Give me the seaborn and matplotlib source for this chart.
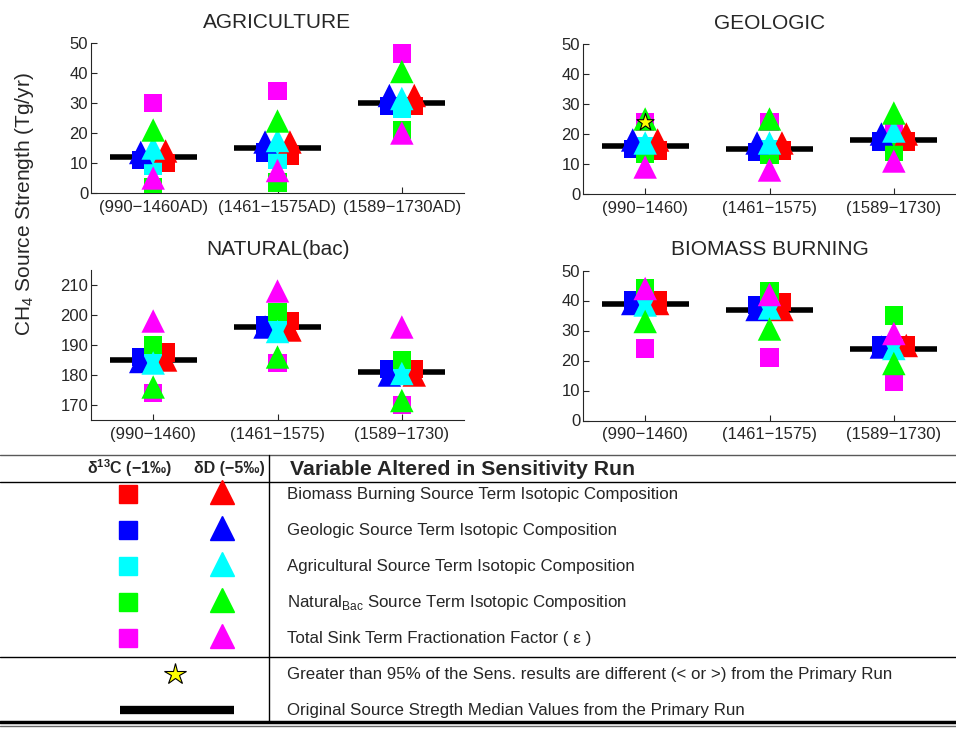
import numpy as np
import pandas as pd
import seaborn as sns
import matplotlib.pyplot as plt

#%% data
periods = ["(990\u22121460)", "(1461\u22121575)", "(1589\u22121730)"]
periods_ad = ["(990\u22121460AD)", "(1461\u22121575AD)", "(1589\u22121730AD)"]
panels = ["AGRICULTURE", "GEOLOGIC", "NATURAL(bac)", "BIOMASS BURNING"]
variables = ["Biomass", "Geologic", "Agricultural", "Natural", "Sink"]
var_colors = ["#ff0000", "#0000ff", "#00ffff", "#00ff00", "#ff00ff"]

# original source strength medians (primary run)
agri_median = [12, 15, 30]
geo_median = [16, 15, 18]
nat_median = [185, 196, 181]
bb_median = [39, 37, 24]

# d13C (-1 permil) sensitivity runs -> squares
agri_sq = {"Biomass": [10, 12.5, 29], "Geologic": [11, 13.5, 29], "Agricultural": [9, 11, 28],
           "Natural": [2, 3.5, 21], "Sink": [30, 34, 46.5]}
geo_sq = {"Biomass": [14.5, 14.5, 17.5], "Geologic": [15, 14, 17.5], "Agricultural": [16, 15, 19],
          "Natural": [13.5, 13, 14], "Sink": [24, 24, 22]}
nat_sq = {"Biomass": [187.5, 198, 182], "Geologic": [186, 196.5, 182], "Agricultural": [184, 196, 181],
          "Natural": [190, 201, 185], "Sink": [174, 184, 170]}
bb_sq = {"Biomass": [40, 39.5, 25], "Geologic": [40, 38.5, 25], "Agricultural": [39, 37.5, 24],
         "Natural": [44, 43, 35], "Sink": [24, 21, 13]}

# dD (-5 permil) sensitivity runs -> triangles
agri_tri = {"Biomass": [14, 17, 32.5], "Geologic": [13.5, 17, 32.5], "Agricultural": [15, 17.5, 31.5],
            "Natural": [21, 24, 40.5], "Sink": [5, 7.5, 20]}
geo_tri = {"Biomass": [18, 17, 20], "Geologic": [18, 17, 20], "Agricultural": [17, 17, 21],
           "Natural": [25, 25, 27], "Sink": [9, 8, 11]}
nat_tri = {"Biomass": [185, 195, 180], "Geologic": [184.5, 196, 180], "Agricultural": [184, 194.5, 180.5],
           "Natural": [176, 186, 171.5], "Sink": [198, 208, 196]}
bb_tri = {"Biomass": [39, 37, 25], "Geologic": [39, 37, 24.5], "Agricultural": [38.5, 37.5, 24],
          "Natural": [33, 30.5, 19], "Sink": [44, 42, 29]}

# >95% different from primary run
star_panel = ["GEOLOGIC"]
star_period = [0]
star_value = [24]

table_rows = ["Biomass Burning Source Term Isotopic Composition",
              "Geologic Source Term Isotopic Composition",
              "Agricultural Source Term Isotopic Composition",
              r"Natural$_{\mathregular{Bac}}$ Source Term Isotopic Composition",
              "Total Sink Term Fractionation Factor ( \u03b5 )"]

#%% long table
offsets = {"Biomass": 0.1, "Geologic": -0.1, "Agricultural": 0.0, "Natural": 0.0, "Sink": 0.0}
rows = []
for panel, sq, tri in zip(panels, [agri_sq, geo_sq, nat_sq, bb_sq], [agri_tri, geo_tri, nat_tri, bb_tri]):
    for shape, tab in (("sq", sq), ("tri", tri)):
        for v in variables:
            for i, val in enumerate(tab[v]):
                rows.append(dict(panel=panel, period=i, var=v, shape=shape, value=val,
                                 xpos=i + 1 + offsets[v]))
df = pd.DataFrame(rows)
stars = pd.DataFrame(dict(panel=star_panel, xpos=np.array(star_period) + 1, value=star_value))

#%% plot
sns.set_style("ticks")
plt.rcParams["font.family"] = ["Liberation Sans", "DejaVu Sans"]
plt.rcParams["mathtext.fontset"] = "custom"
plt.rcParams["mathtext.rm"] = "Liberation Sans"
plt.rcParams["mathtext.bf"] = "Liberation Sans:bold"

fig = plt.figure(figsize=(9.56, 7.29), dpi=100)
W, H = 956, 729
boxes = {"AGRICULTURE": (91, 193), "GEOLOGIC": (583, 194),
         "NATURAL(bac)": (91, 420), "BIOMASS BURNING": (583, 420.5)}
medians = {"AGRICULTURE": agri_median, "GEOLOGIC": geo_median,
           "NATURAL(bac)": nat_median, "BIOMASS BURNING": bb_median}

for panel in panels:
    left, bottom = boxes[panel]
    ax = fig.add_axes([left / W, 1 - bottom / H, 373 / W, 150 / H])
    sub = df[df["panel"] == panel]
    med = medians[panel]
    xs = np.arange(1, 4)
    ax.hlines(med, xs - 0.35, xs + 0.35, color="black", lw=4, zorder=2)
    sns.scatterplot(data=sub, x="xpos", y="value", hue="var", hue_order=variables,
                    palette=var_colors, style="shape", markers={"sq": "s", "tri": "^"},
                    size="shape", sizes={"sq": 170, "tri": 285}, linewidth=0,
                    legend=False, ax=ax, zorder=3)
    st = stars[stars["panel"] == panel]
    if len(st):
        sns.scatterplot(data=st, x="xpos", y="value", marker="*", s=170, color="yellow",
                        edgecolor="black", linewidth=0.8, legend=False, ax=ax, zorder=4)
    ax.set_xlim(0.5, 3.5)
    if panel == "NATURAL(bac)":
        ax.set_ylim(165, 215)
        ax.set_yticks([170, 180, 190, 200, 210])
    else:
        ax.set_ylim(0, 50)
        ax.set_yticks([0, 10, 20, 30, 40, 50])
    ax.set_xticks(xs)
    ax.set_xticklabels(periods_ad if panel == "AGRICULTURE" else periods)
    ax.set_xlabel("")
    ax.set_ylabel("")
    ax.set_title(panel, fontsize=15, pad=11)
    ax.tick_params(direction="in", length=4, labelsize=12, width=0.8)
    ax.tick_params(axis="x", pad=5)
    ax.tick_params(axis="y", pad=2)
    sns.despine(ax=ax)

fig.text(25 / W, 1 - 204 / H, "CH$_4$ Source Strength (Tg/yr)", rotation=90,
         ha="center", va="center", fontsize=15)

#%% legend table
tb = fig.add_axes([0, 0, 1, 1])
tb.set_xlim(0, W)
tb.set_ylim(H, 0)
tb.axis("off")
tb.plot([0, W], [455, 455], color="0.35", lw=1)
tb.plot([0, W], [482, 482], color="black", lw=1)
tb.plot([0, W], [657, 657], color="black", lw=1)
tb.plot([0, W], [722, 722], color="black", lw=2.5)
tb.plot([0, W], [726, 726], color="0.4", lw=1)
tb.plot([269, 269], [455, 722], color="black", lw=1)

tb.text(172, 468, "\u03b4$^{\\mathbf{13}}$C (\u22121\u2030)", ha="right", va="center",
        fontsize=11.5, fontweight="bold")
tb.text(265, 468, "\u03b4D (\u22125\u2030)", ha="right", va="center", fontsize=11.5, fontweight="bold")
tb.text(290, 469, "Variable Altered in Sensitivity Run", ha="left", va="center",
        fontsize=15.3, fontweight="bold")

row_y = [494, 530, 566, 602, 638]
for y, c, label in zip(row_y, var_colors, table_rows):
    tb.plot(128, y, marker="s", ms=12.5, color=c, mec=c, ls="none")
    tb.plot(222, y - 2, marker="^", ms=17, color=c, mec=c, ls="none")
    tb.text(287, y, label, ha="left", va="center", fontsize=12.2)

tb.plot(175, 674, marker="*", ms=16, color="yellow", mec="black", mew=0.8, ls="none")
tb.text(287, 674, "Greater than 95% of the Sens. results are different (< or >) from the Primary Run",
        ha="left", va="center", fontsize=12.2)
tb.plot([120, 234], [710, 710], color="black", lw=6, solid_capstyle="butt")
tb.text(287, 710, "Original Source Stregth Median Values from the Primary Run",
        ha="left", va="center", fontsize=12.2)

fig.savefig("out.png", dpi=100)
